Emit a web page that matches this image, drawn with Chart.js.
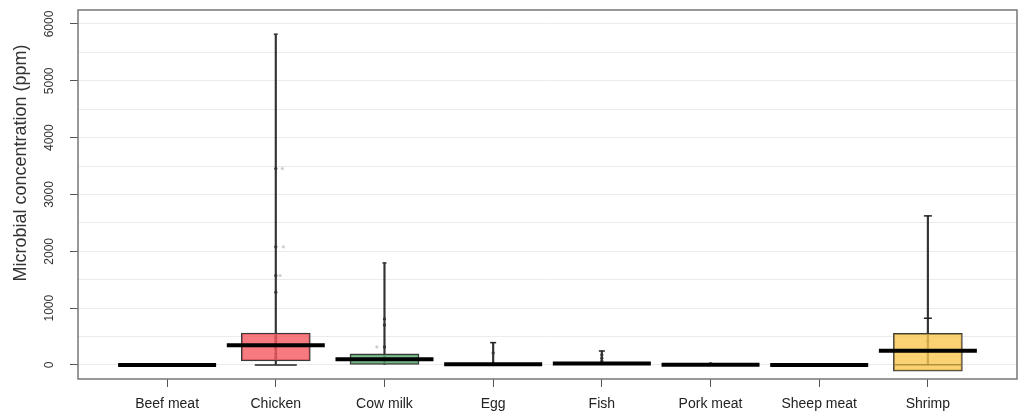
<!DOCTYPE html>
<html>
<head>
<meta charset="utf-8">
<script src="https://cdn.jsdelivr.net/npm/chart.js@4.4.1/dist/chart.umd.min.js"></script>
<style>
  html, body { margin: 0; padding: 0; background: #fff; }
  #wrap { width: 1026px; height: 416px; }
</style>
</head>
<body>
<div id="wrap"><canvas id="boxChart"></canvas></div>
<script>
// Box summaries per food type
const categories = ['Beef meat', 'Chicken', 'Cow milk', 'Egg', 'Fish', 'Pork meat', 'Sheep meat', 'Shrimp'];
const q1Values = [0, 70, 0, 0, 0, 0, 0, -110];
const q3Values = [0, 563, 194, 30, 40, 0, 0, 557];
const medianValues = [0, 345, 100, 12, 25, 3, 0, 252];
const whiskerLow = [0, 0, 0, 0, 0, 0, 0, 5];
const whiskerHigh = [0, 5820, 1795, 393, 246, 25, 0, 2623];

// Whisker caps (category position, value)
const capX = [2, 2, 3, 4, 5, 8, 8, 8];
const capValues = [0, 5820, 1795, 393, 246, 2623, 822, 5];

// Individual observations (category position incl. jitter, value)
const pointX = [2, 2, 2, 2, 2, 2, 2, 2, 2, 3, 3, 3, 4, 5, 5, 5, 6, 8, 2.06, 2.07, 2.04, 2.93];
const pointValues = [3455, 2078, 1574, 1280, 480, 420, 300, 200, 130, 810, 704, 317, 211, 180, 120, 70, 25, 422, 3455, 2078, 1574, 317];

const yTickValues = [0, 1000, 2000, 3000, 4000, 5000, 6000];
const yGridValues = [0, 500, 1000, 1500, 2000, 2500, 3000, 3500, 4000, 4500, 5000, 5500, 6000];
const yTitle = 'Microbial concentration (ppm)';

// styling
const boxColors = ['rgba(0,0,0,0)', 'rgba(244,89,96,0.8)', 'rgba(93,176,114,0.8)', 'rgba(0,0,0,0)',
                   'rgba(0,0,0,0)', 'rgba(0,0,0,0)', 'rgba(0,0,0,0)', 'rgba(249,199,80,0.8)'];
const capHalf = [21, 2, 2, 3, 3, 4, 4, 34];
const capColors = ['#222', '#333', '#333', '#222', '#222', '#222', '#222', 'rgba(150,120,40,0.7)'];
const pointColors = pointX.map(x => Number.isInteger(x) ? '#333' : '#cfcfcf');

Chart.defaults.font.family = '"Liberation Sans", Arial, sans-serif';
Chart.defaults.color = '#333';

const framePlugin = {
    id: 'frame',
    afterDraw(chart) {
        const { ctx, chartArea } = chart;
        ctx.save();
        ctx.strokeStyle = '#777';
        ctx.lineWidth = 1.5;
        ctx.strokeRect(chartArea.left, chartArea.top, chartArea.right - chartArea.left, chartArea.bottom - chartArea.top);

        // y axis title
        ctx.translate(21, 163);
        ctx.rotate(-Math.PI / 2);
        ctx.font = '18px "Liberation Sans", Arial, sans-serif';
        ctx.fillStyle = '#333';
        ctx.textAlign = 'center';
        ctx.textBaseline = 'middle';
        ctx.fillText(yTitle, 0, 0);
        ctx.restore();
    }
};

function noEdgePadding(scale) {
    scale.paddingTop = 0;
    scale.paddingBottom = 0;
    scale.paddingLeft = 0;
    scale.paddingRight = 0;
}

const ctx = document.getElementById('boxChart').getContext('2d');
new Chart(ctx, {
    type: 'bar',
    data: {
        datasets: [
            {
                // medians
                type: 'scatter',
                order: 0,
                data: categories.map((c, i) => ({ x: i + 1, y: medianValues[i] })),
                pointStyle: 'line',
                pointRadius: 49,
                borderWidth: 4,
                borderColor: '#000'
            },
            {
                // whisker caps
                type: 'scatter',
                order: 1,
                data: capX.map((x, i) => ({ x: x, y: capValues[i] })),
                pointStyle: 'line',
                pointRadius: capHalf,
                borderWidth: 1.5,
                borderColor: capColors
            },
            {
                // boxes
                type: 'bar',
                order: 2,
                grouped: false,
                data: categories.map((c, i) => ({ x: i + 1, y: [q1Values[i], q3Values[i]] })),
                barThickness: 69,
                backgroundColor: boxColors,
                borderColor: '#3a3a3a',
                borderWidth: 1.3,
                borderSkipped: false
            },
            {
                // observations
                type: 'scatter',
                order: 3,
                data: pointX.map((x, i) => ({ x: x, y: pointValues[i] })),
                pointRadius: 1.6,
                backgroundColor: pointColors,
                borderWidth: 0
            },
            {
                // whiskers
                type: 'bar',
                order: 4,
                grouped: false,
                data: categories.map((c, i) => ({ x: i + 1, y: [whiskerLow[i], whiskerHigh[i]] })),
                barThickness: 1.5,
                backgroundColor: '#333',
                borderWidth: 0
            }
        ]
    },
    options: {
        responsive: true,
        maintainAspectRatio: false,
        animation: false,
        events: [],
        layout: { autoPadding: false, padding: { left: 0, right: 9, top: 10, bottom: 0 } },
        plugins: {
            legend: { display: false },
            tooltip: { enabled: false }
        },
        scales: {
            x: {
                type: 'linear',
                offset: false,
                min: 0.18,
                max: 8.82,
                afterBuildTicks: scale => {
                    scale.ticks = categories.map((c, i) => ({ value: i + 1 }));
                },
                afterFit: scale => { scale.height = 37; noEdgePadding(scale); },
                ticks: {
                    autoSkip: false,
                    maxRotation: 0,
                    padding: 9,
                    color: '#222',
                    font: { size: 14 },
                    callback: v => categories[v - 1]
                },
                grid: {
                    offset: false,
                    drawOnChartArea: false,
                    tickLength: 8,
                    tickColor: '#555'
                },
                border: { display: false }
            },
            y: {
                min: -247,
                max: 6246,
                afterBuildTicks: scale => {
                    scale.ticks = yGridValues.map(v => ({ value: v }));
                },
                afterFit: scale => { scale.width = 78; noEdgePadding(scale); },
                ticks: {
                    minRotation: 90,
                    maxRotation: 90,
                    crossAlign: 'center',
                    padding: 7,
                    color: '#333',
                    font: { size: 12 },
                    callback: v => yTickValues.includes(v) ? String(v) : ''
                },
                grid: {
                    color: '#ebebeb',
                    lineWidth: 1,
                    tickLength: 8,
                    tickColor: c => (c.tick && yTickValues.includes(c.tick.value)) ? '#555' : 'rgba(0,0,0,0)'
                },
                border: { display: false }
            }
        }
    },
    plugins: [framePlugin]
});
</script>
</body>
</html>
